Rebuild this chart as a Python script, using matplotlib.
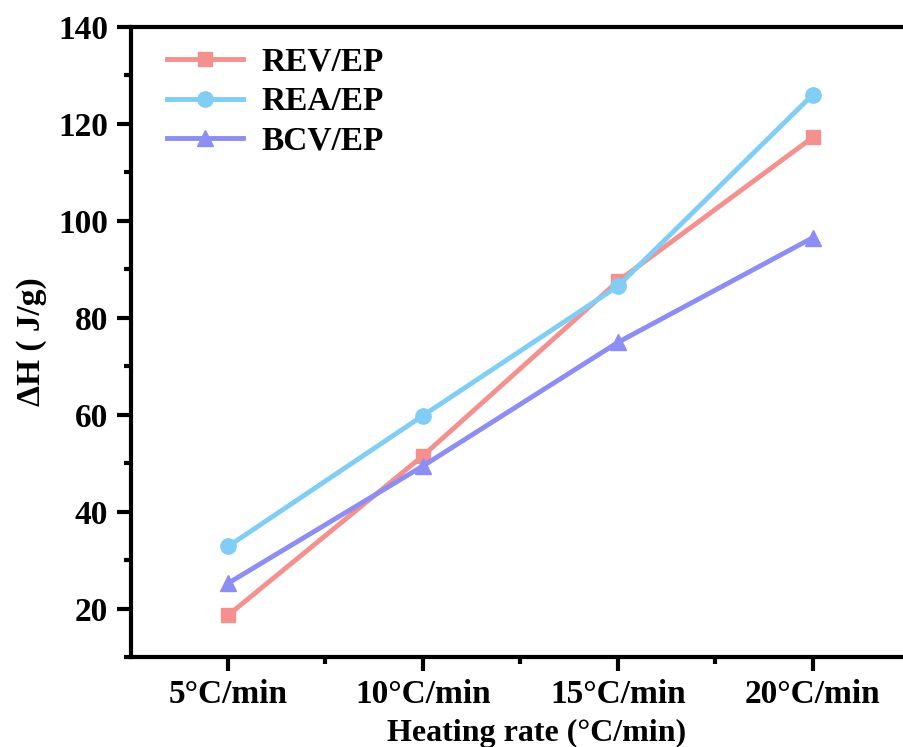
import matplotlib
matplotlib.use("Agg")
import matplotlib.pyplot as plt
from matplotlib.ticker import AutoMinorLocator

rates = ["5°C/min", "10°C/min", "15°C/min", "20°C/min"]
revEP = [18.6, 51.5, 87.5, 117.2]
reaEP = [32.8, 59.8, 86.5, 126.0]
bcvEP = [25.2, 49.4, 74.9, 96.5]

plt.rcParams['font.family'] = ['Liberation Serif', 'DejaVu Serif']
plt.rcParams['font.weight'] = 'bold'

fig = plt.figure(figsize=(9.04, 7.47), dpi=100)
# the original image is cropped on the right, so the axes run past the edge
ax = fig.add_axes([0.1444, 0.1205, 0.899, 0.8434])

x = [1, 2, 3, 4]
ax.plot(x, revEP, color="#F4918F", marker="s", lw=3.5, ms=10, label="REV/EP")
ax.plot(x, reaEP, color="#80CDF5", marker="o", lw=3.5, ms=11, label="REA/EP")
ax.plot(x, bcvEP, color="#8D8EF3", marker="^", lw=3.5, ms=11, label="BCV/EP")

ax.set_xlim(0.5, 4.67)
ax.set_ylim(10, 140)
ax.set_xticks(x)
ax.set_xticklabels(rates)
ax.set_yticks([20, 40, 60, 80, 100, 120, 140])
ax.set_xticks([1.5, 2.5, 3.5, 4.5], minor=True)
ax.yaxis.set_minor_locator(AutoMinorLocator(2))

for s in ax.spines.values():
	s.set_linewidth(3)
ax.tick_params(which="major", direction="out", length=10, width=3, labelsize=24, pad=6)
ax.tick_params(which="minor", direction="out", length=5, width=3)

ax.set_xlabel("Heating rate (°C/min)", fontsize=23, fontweight="bold", labelpad=6)
ax.set_ylabel("ΔH ( J/g)", fontsize=24, fontweight="bold", labelpad=8)

ax.legend(loc="upper left", frameon=False, fontsize=24, handlelength=2.3,
	borderaxespad=0.2, labelspacing=0.25, handletextpad=0.55, bbox_to_anchor=(0.02, 1.0))

fig.savefig("out.png", dpi=100)
